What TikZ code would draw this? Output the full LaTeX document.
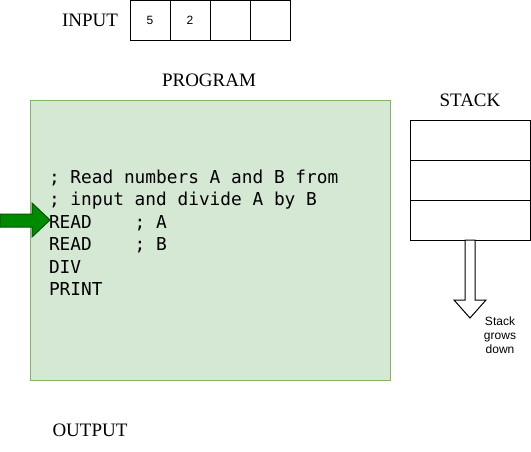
\documentclass[tikz,border=0pt]{standalone}
\usepackage{fontspec}
\setmainfont{Liberation Serif}
\setsansfont{Liberation Sans}
\newfontfamily\codefont{DejaVu Sans Mono}
\usetikzlibrary{arrows.meta, backgrounds}
\definecolor{progfill}{HTML}{D5E8D4}
\definecolor{progdraw}{HTML}{82B366}
\definecolor{pcfill}{HTML}{008A00}
\definecolor{pcdraw}{HTML}{005700}
\tikzset{
    cell/.style={draw=black,fill=white,minimum width=40pt,minimum height=40pt,inner sep=0pt,
        font=\sffamily\fontsize{12}{14}\selectfont},
    slot/.style={cell,minimum width=120pt},
    title/.style={inner sep=0pt,font=\fontsize{19}{21}\selectfont},
    prog/.style={draw=progdraw,fill=progfill,minimum width=360pt,minimum height=280pt,inner sep=0pt},
    code/.style={inner sep=0pt,align=left,font=\codefont\fontsize{17.8}{22.4}\selectfont},
    note/.style={inner sep=0pt,align=center,font=\sffamily\fontsize{12}{14}\selectfont},
}

\begin{document}
\begin{tikzpicture}[x=1pt,y=-1pt,line width=1pt]
\useasboundingbox (0,0) rectangle (531,451);
% input tape
\node[title] (inlbl) at (90,20) {INPUT};
\foreach \i/\v in {0/5,1/2,2/,3/} {
    \node[cell] (in\i) at ({150+40*\i},20) {\v};
}
% program
\node[title] (proglbl) at (209,80) {PROGRAM};
\node[prog,anchor=north west] (prog) at (30,100) {};
\node[code,anchor=north west] (src) at (48.5,169.5) {%
; Read numbers A and B from\\
; input and divide A by B\\
READ\ \ \ \ ; A\\
READ\ \ \ \ ; B\\
DIV\\
PRINT};
\node[title] (outlbl) at (90,430) {OUTPUT};
% program counter
\coordinate (pc) at (50,220);
\draw[pcdraw,fill=pcfill]
    (0,214) -- (32,214) -- (32,203) -- (pc) -- (32,237) -- (32,227) -- (0,227) -- cycle;
% stack
\node[title] (stklbl) at (470,100) {STACK};
\foreach \i in {0,1,2} {
    \node[slot] (stk\i) at (470,{140+40*\i}) {};
}
\coordinate (grow) at (470,318);
\draw[black,fill=white]
    (465,240) -- (475,240) -- (475,300) -- (486,300) -- (grow) -- (454,300) -- (465,300) -- cycle;
\node[note] (growlbl) at (500,335) {Stack\\grows\\down};
\end{tikzpicture}
\end{document}
